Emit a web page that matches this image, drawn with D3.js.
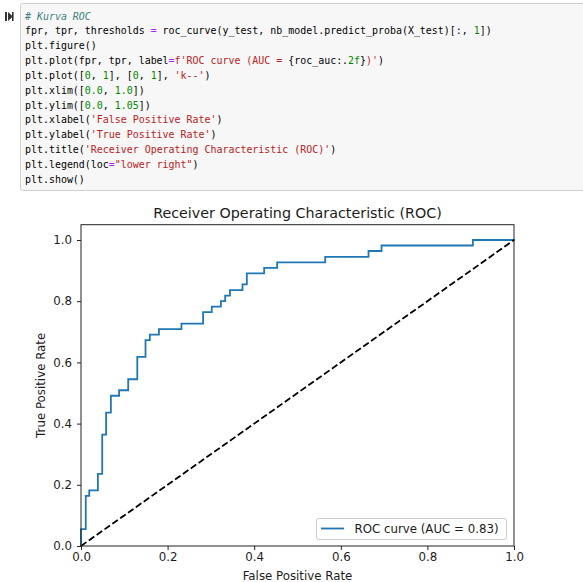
<!DOCTYPE html>
<html>
<head>
<meta charset="utf-8">
<script src="https://d3js.org/d3.v7.min.js"></script>
<style>
  body { margin: 0; background: #fff; }
  svg text { white-space: pre; }
</style>
</head>
<body>
<div id="container"></div>
<script>
  /* Data */
  /* ============================= */

  // corner points of the ROC step curve
  var fpr = [0.000, 0.000, 0.011, 0.011, 0.019, 0.019, 0.039, 0.039, 0.049, 0.049,
             0.058, 0.058, 0.069, 0.069, 0.088, 0.088, 0.109, 0.109, 0.130, 0.130,
             0.149, 0.149, 0.159, 0.159, 0.180, 0.180, 0.232, 0.232, 0.282, 0.282,
             0.302, 0.302, 0.323, 0.323, 0.333, 0.333, 0.344, 0.344, 0.373, 0.373,
             0.383, 0.383, 0.423, 0.423, 0.453, 0.453, 0.564, 0.564, 0.664, 0.664,
             0.694, 0.694, 0.905, 0.905, 1.000];
  var tpr = [0.000, 0.055, 0.055, 0.164, 0.164, 0.182, 0.182, 0.236, 0.236, 0.364,
             0.364, 0.436, 0.436, 0.491, 0.491, 0.509, 0.509, 0.545, 0.545, 0.618,
             0.618, 0.673, 0.673, 0.691, 0.691, 0.709, 0.709, 0.727, 0.727, 0.764,
             0.764, 0.782, 0.782, 0.800, 0.800, 0.818, 0.818, 0.836, 0.836, 0.855,
             0.855, 0.891, 0.891, 0.909, 0.909, 0.927, 0.927, 0.945, 0.945, 0.964,
             0.964, 0.982, 0.982, 1.000, 1.000];
  var chanceX = [0, 1];
  var chanceY = [0, 1];
  var xTicks = [0.0, 0.2, 0.4, 0.6, 0.8, 1.0];
  var yTicks = [0.0, 0.2, 0.4, 0.6, 0.8, 1.0];
  var xLim = [0.0, 1.0];
  var yLim = [0.0, 1.05];
  var titleText = "Receiver Operating Characteristic (ROC)";
  var xLabelText = "False Positive Rate";
  var yLabelText = "True Positive Rate";
  var legendText = "ROC curve (AUC = 0.83)";

  // notebook cell source, as [text, token type] pieces per line
  var codeLines = [
    [["# Kurva ROC", "c"]],
    [["fpr, tpr, thresholds ", ""], ["=", "o"], [" roc_curve(y_test, nb_model.predict_proba(X_test)[:, ", ""], ["1", "n"], ["])", ""]],
    [["plt.figure()", ""]],
    [["plt.plot(fpr, tpr, label", ""], ["=", "o"], ["f'ROC curve (AUC = ", "s"], ["{roc_auc:.", ""], ["2f", "n"], ["}", ""], [")'", "s"], [")", ""]],
    [["plt.plot([", ""], ["0", "n"], [", ", ""], ["1", "n"], ["], [", ""], ["0", "n"], [", ", ""], ["1", "n"], ["], ", ""], ["'k--'", "s"], [")", ""]],
    [["plt.xlim([", ""], ["0.0", "n"], [", ", ""], ["1.0", "n"], ["])", ""]],
    [["plt.ylim([", ""], ["0.0", "n"], [", ", ""], ["1.05", "n"], ["])", ""]],
    [["plt.xlabel(", ""], ["'False Positive Rate'", "s"], [")", ""]],
    [["plt.ylabel(", ""], ["'True Positive Rate'", "s"], [")", ""]],
    [["plt.title(", ""], ["'Receiver Operating Characteristic (ROC)'", "s"], [")", ""]],
    [["plt.legend(loc", ""], ["=", "o"], ["\"lower right\"", "s"], [")", ""]],
    [["plt.show()", ""]]
  ];

  /* Setup */
  /* ===== */

  var width = 583, height = 582;
  var plot = { left: 81, right: 514, top: 224.7, bottom: 546 };
  var textColor = "#1c1c1c";
  var chartFont = "'DejaVu Sans', sans-serif";
  var tickFont = "11.8px";

  var tokenColor = { "": "#000", c: "#408080", s: "#ba2121", n: "#008800", o: "#aa22ff" };

  var svg = d3.select("#container").append("svg")
    .attr("width", width)
    .attr("height", height);

  /* Notebook cell */
  /* ------------- */

  svg.append("rect")
    .attr("x", 20.5).attr("y", 3.5)
    .attr("width", 620).attr("height", 187)
    .attr("rx", 2)
    .attr("fill", "#f7f7f7")
    .attr("stroke", "#cfcfcf");

  // run icon
  var icon = svg.append("g").attr("fill", "#333");
  icon.append("rect").attr("x", 5).attr("y", 12).attr("width", 2).attr("height", 9);
  icon.append("path").attr("d", "M8,12 L13,16.5 L8,21 Z");
  icon.append("rect").attr("x", 12).attr("y", 12).attr("width", 1.6).attr("height", 9);

  var code = svg.append("g")
    .attr("font-family", "'DejaVu Sans Mono', 'Liberation Mono', monospace")
    .attr("font-size", "9.95px");

  codeLines.forEach(function(line, i) {
    var t = code.append("text")
      .attr("x", 25)
      .attr("y", 19.5 + i * 14.85);
    line.forEach(function(tok) {
      t.append("tspan")
        .attr("fill", tokenColor[tok[1]])
        .attr("font-style", tok[1] === "c" ? "italic" : null)
        .text(tok[0]);
    });
  });

  /* Chart */
  /* ----- */

  var x = d3.scaleLinear().domain(xLim).range([plot.left, plot.right]);
  var y = d3.scaleLinear().domain(yLim).range([plot.bottom, plot.top]);

  var line = d3.line()
    .x(function(d) { return x(d[0]); })
    .y(function(d) { return y(d[1]); });

  var chart = svg.append("g").attr("font-family", chartFont);

  // ROC curve
  chart.append("path")
    .datum(d3.zip(fpr, tpr))
    .attr("d", line)
    .attr("fill", "none")
    .attr("stroke", "#1f77b4")
    .attr("stroke-width", 1.8)
    .attr("stroke-linejoin", "miter")
    .attr("stroke-linecap", "square");

  // chance diagonal 'k--'
  chart.append("path")
    .datum(d3.zip(chanceX, chanceY))
    .attr("d", line)
    .attr("fill", "none")
    .attr("stroke", "#000")
    .attr("stroke-width", 1.8)
    .attr("stroke-dasharray", "6.7,2.9");

  // axes
  var xAxis = chart.append("g")
    .attr("transform", "translate(0," + plot.bottom + ")")
    .call(d3.axisBottom(x)
      .tickValues(xTicks)
      .tickFormat(d3.format(".1f"))
      .tickSize(4)
      .tickPadding(3)
      .tickSizeOuter(0));

  var yAxis = chart.append("g")
    .attr("transform", "translate(" + plot.left + ",0)")
    .call(d3.axisLeft(y)
      .tickValues(yTicks)
      .tickFormat(d3.format(".1f"))
      .tickSize(4)
      .tickPadding(5)
      .tickSizeOuter(0));

  [xAxis, yAxis].forEach(function(ax) {
    ax.select(".domain").remove();
    ax.attr("font-family", chartFont).attr("font-size", tickFont);
    ax.selectAll(".tick line").attr("stroke", "#222").attr("stroke-width", 1);
    ax.selectAll(".tick text").attr("fill", textColor);
  });

  // frame
  chart.append("rect")
    .attr("x", plot.left).attr("y", plot.top)
    .attr("width", plot.right - plot.left)
    .attr("height", plot.bottom - plot.top)
    .attr("fill", "none")
    .attr("stroke", "#222")
    .attr("stroke-width", 1);

  // title and labels
  chart.append("text")
    .attr("x", (plot.left + plot.right) / 2)
    .attr("y", 218)
    .attr("text-anchor", "middle")
    .attr("font-size", "14.3px")
    .attr("fill", textColor)
    .text(titleText);

  chart.append("text")
    .attr("x", (plot.left + plot.right) / 2)
    .attr("y", 580)
    .attr("text-anchor", "middle")
    .attr("font-size", tickFont)
    .attr("fill", textColor)
    .text(xLabelText);

  chart.append("text")
    .attr("transform", "translate(45," + ((plot.top + plot.bottom) / 2) + ") rotate(-90)")
    .attr("text-anchor", "middle")
    .attr("font-size", tickFont)
    .attr("fill", textColor)
    .text(yLabelText);

  // legend, lower right
  var legend = chart.append("g");
  legend.append("rect")
    .attr("x", 316.5).attr("y", 518.5)
    .attr("width", 190).attr("height", 21)
    .attr("rx", 2.5)
    .attr("fill", "#fff")
    .attr("fill-opacity", 0.8)
    .attr("stroke", "#cccccc")
    .attr("stroke-width", 1);
  legend.append("line")
    .attr("x1", 321).attr("x2", 344)
    .attr("y1", 528.5).attr("y2", 528.5)
    .attr("stroke", "#1f77b4")
    .attr("stroke-width", 1.8);
  legend.append("text")
    .attr("x", 354.5)
    .attr("y", 532.8)
    .attr("font-size", tickFont)
    .attr("fill", textColor)
    .text(legendText);
</script>
</body>
</html>
